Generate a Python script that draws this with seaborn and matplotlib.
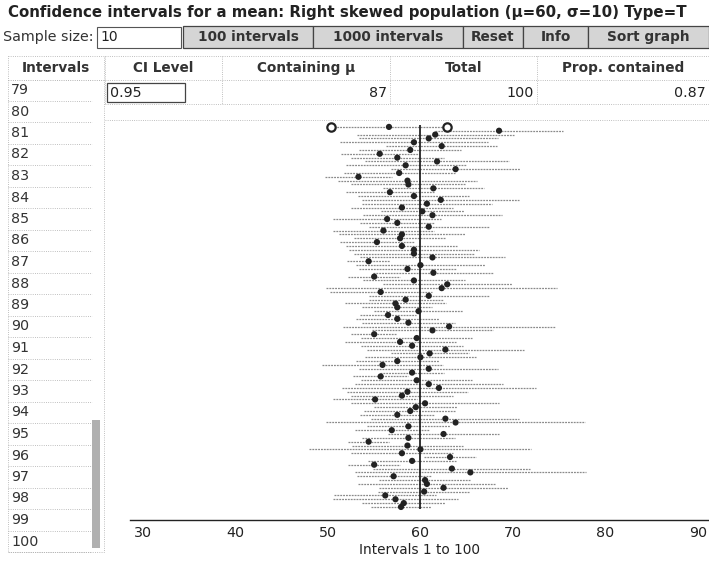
import numpy as np
import pandas as pd
import matplotlib
matplotlib.use('Agg')
import matplotlib.pyplot as plt
from matplotlib.patches import Rectangle
import seaborn as sns

# sample means of the 100 intervals (top to bottom) and their half-widths
means = [56.6, 68.5, 61.6, 60.9, 59.3, 62.3, 58.9, 55.6, 57.5, 61.8,
         58.4, 63.8, 57.7, 53.3, 58.6, 58.7, 61.4, 56.7, 59.3, 62.2,
         60.7, 58.0, 60.2, 61.3, 56.4, 57.5, 60.9, 56.0, 58.0, 57.8,
         55.3, 58.0, 59.3, 59.3, 61.3, 54.4, 60.0, 58.6, 61.4, 55.0,
         59.3, 62.9, 62.3, 55.7, 60.9, 58.4, 57.3, 57.5, 59.8, 56.5,
         57.5, 58.7, 63.1, 61.3, 55.0, 59.6, 57.8, 59.1, 62.7, 61.0,
         60.0, 57.5, 55.9, 60.9, 59.1, 55.7, 59.6, 60.9, 62.0, 58.6,
         58.0, 55.1, 60.5, 59.5, 58.9, 57.5, 62.7, 63.8, 58.7, 56.9,
         62.5, 58.7, 54.4, 58.6, 60.0, 58.0, 63.2, 59.1, 55.0, 63.4,
         65.4, 57.1, 60.5, 60.7, 62.5, 60.4, 56.2, 57.3, 58.2, 57.9]
half_widths = [6.3, 6.9, 8.5, 7.5, 8.0, 6.0, 5.5, 4.2, 5.0, 7.8,
               6.5, 7.0, 6.0, 3.6, 7.5, 6.2, 5.5, 4.8, 6.0, 8.5,
               7.0, 5.5, 4.5, 7.5, 5.8, 4.0, 6.5, 5.5, 6.8, 5.0,
               4.0, 6.0, 7.0, 6.5, 7.8, 2.3, 7.0, 5.2, 6.5, 2.8,
               5.5, 7.0, 12.5, 5.5, 6.5, 4.0, 5.5, 3.8, 4.8, 3.0,
               4.5, 5.0, 11.5, 6.5, 2.5, 6.0, 6.0, 5.5, 8.5, 4.2,
               6.0, 4.5, 6.5, 7.5, 3.5, 3.0, 6.0, 8.0, 10.5, 6.5,
               5.5, 4.5, 8.0, 4.5, 5.0, 4.0, 8.0, 14.0, 4.5, 4.0,
               6.0, 5.0, 2.2, 6.0, 12.0, 5.5, 2.8, 4.8, 2.8, 8.5,
               12.5, 4.0, 5.0, 7.5, 7.0, 5.0, 5.5, 6.8, 4.5, 3.2]
mu = 60
x_ticks = [30, 40, 50, 60, 70, 80, 90]
row_labels = list(range(79, 101))
buttons = ['100 intervals', '1000 intervals', 'Reset', 'Info', 'Sort graph']
table_header = ['CI Level', 'Containing μ', 'Total', 'Prop. contained']
table_values = ['0.95', '87', '100', '0.87']

df = pd.DataFrame({'interval': np.arange(1, len(means) + 1), 'mean': means, 'hw': half_widths})
df['low'] = df['mean'] - df['hw']
df['high'] = df['mean'] + df['hw']

sns.set_style('white')
plt.rcParams['font.family'] = ['DejaVu Sans']

W, H = 709, 562
fig = plt.figure(figsize=(W / 100, H / 100), dpi=100)

# overlay for the applet widgets, in pixel coords
ov = fig.add_axes([0, 0, 1, 1], zorder=0)
ov.set_xlim(0, W)
ov.set_ylim(H, 0)
ov.axis('off')

ov.text(8, 13, 'Confidence intervals for a mean: Right skewed population (μ=60, σ=10) Type=T',
        fontsize=10.8, fontweight='bold', va='center', ha='left', color='#222')
ov.text(3, 37, 'Sample size:', fontsize=10.3, va='center', ha='left', color='#333')
ov.add_patch(Rectangle((97, 27), 84, 21, facecolor='white', edgecolor='#555', lw=0.8))
ov.text(100, 37, '10', fontsize=10, va='center', ha='left', color='#222')

btn_edges = [183, 313, 463, 523, 588, 709]
for i, b in enumerate(buttons):
    x0, x1 = btn_edges[i], btn_edges[i + 1]
    ov.add_patch(Rectangle((x0, 26), x1 - x0, 22, facecolor='#d5d5d5', edgecolor='#444', lw=0.9))
    ov.text((x0 + x1) / 2, 37, b, fontsize=9.8, fontweight='bold', va='center', ha='center', color='#333')

# left "Intervals" column
ov.add_patch(Rectangle((8, 56), 96, 496, facecolor='white', edgecolor='#aaa', lw=0.6, ls=':'))
ov.text(56, 68, 'Intervals', fontsize=9.8, fontweight='bold', va='center', ha='center', color='#333')
ov.plot([8, 104], [80, 80], color='#999', lw=0.6, ls=':')
row_h = 21.5
for i, r in enumerate(row_labels):
    yc = 90 + i * row_h
    ov.text(11, yc, str(r), fontsize=10.3, va='center', ha='left', color='#333')
    ov.plot([8, 92], [yc + 10.5, yc + 10.5], color='#aaa', lw=0.6, ls=':')
ov.add_patch(Rectangle((92, 420), 8, 128, facecolor='#b0b0b0', edgecolor='none'))

# results table
col_edges = [105, 222, 390, 537, 709]
for yy in [56, 80, 104, 120]:
    ov.plot([105, 709], [yy, yy], color='#aaa', lw=0.6, ls=':')
for e in col_edges[:-1]:
    ov.plot([e, e], [56, 104], color='#aaa', lw=0.6, ls=':')
for i, h in enumerate(table_header):
    ov.text((col_edges[i] + col_edges[i + 1]) / 2, 68, h, fontsize=9.8, fontweight='bold',
            va='center', ha='center', color='#333')
ov.add_patch(Rectangle((107, 83), 78, 19, facecolor='white', edgecolor='#444', lw=0.9))
ov.text(110, 93, table_values[0], fontsize=10.3, va='center', ha='left', color='#222')
for i in range(1, 4):
    ov.text(col_edges[i + 1] - 3, 93, table_values[i], fontsize=10.3,
            va='center', ha='right', color='#222')

# interval plot
ax = fig.add_axes([130 / W, (H - 520) / H, (W - 130) / W, 400 / H], zorder=1)
ax.set_facecolor('none')
ax.hlines(df['interval'], df['low'], df['high'], color='#8a8a8a', lw=0.9, ls=(0, (1.5, 0.8)))
sns.scatterplot(data=df, x='mean', y='interval', ax=ax, color='#222', s=20,
                edgecolor='none', legend=False, zorder=3)
first = df.iloc[0]
ax.plot([first['low'], first['high']], [first['interval'], first['interval']], 'o',
        ms=6, mfc='white', mec='#222', mew=1.6, zorder=4)
ax.vlines(mu, 0.5, 100.5, color='#111', lw=1.2, zorder=2)

ax.set_xlim(28.6, 91.2)
ax.set_ylim(103.4, -0.8)
ax.set_yticks([])
ax.set_xticks(x_ticks)
ax.set_xticklabels([str(t) for t in x_ticks], fontsize=10.3, color='#222')
ax.tick_params(axis='x', direction='inout', length=7, width=0.8, pad=1, colors='#222')
for s in ['top', 'left', 'right']:
    ax.spines[s].set_visible(False)
ax.spines['bottom'].set_color('#222')
ax.spines['bottom'].set_linewidth(1.0)
ax.set_xlabel('Intervals 1 to 100', fontsize=9.8, color='#222', labelpad=2)
ax.set_ylabel('')

fig.savefig('out.png', dpi=100)
